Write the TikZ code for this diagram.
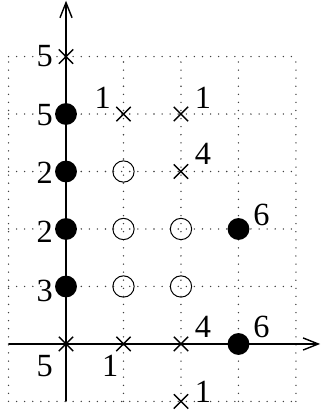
\documentclass[tikz,border=0pt]{standalone}
\usepackage{fontspec}
\setmainfont{Liberation Serif}
\usetikzlibrary{arrows.meta,shapes.misc}
\begin{document}
\begin{tikzpicture}[x=1cm,y=1cm,
  gridline/.style={black!75, line width=0.75pt, line cap=round, dash pattern=on 0pt off 4pt},
  axisline/.style={line width=0.8pt, -{Straight Barb[length=7.5pt,width=6pt,line width=0.7pt]}},
  xmark/.style={cross out, draw, line width=0.7pt, minimum size=0.25cm, inner sep=0pt, outer sep=0pt},
  fdot/.style={circle, fill=black, minimum size=0.38cm, inner sep=0pt},
  odot/.style={circle, draw, fill=white, fill opacity=0, line width=0.5pt, minimum size=0.37cm, inner sep=0pt},
  lab/.style={font=\fontsize{16}{19}\selectfont, inner sep=0pt}]
\useasboundingbox (-1.148,-1.183) rectangle (4.435,5.983);
% grid
\draw[gridline] (-1,-1) grid (4,5);
% axes
\coordinate (xs) at (-1,0);
\coordinate (xe) at (4.42,0);
\coordinate (ys) at (0,-1);
\coordinate (ye) at (0,5.97);
\draw[axisline] (xs) -- (xe);
\draw[axisline] (ys) -- (ye);
% points
\node[xmark] (p05) at (0,5) {};
\node[fdot] (p04) at (0,4) {};
\node[fdot] (p03) at (0,3) {};
\node[fdot] (p02) at (0,2) {};
\node[fdot] (p01) at (0,1) {};
\node[xmark] (p00) at (0,0) {};
\node[xmark] (p14) at (1,4) {};
\node[xmark] (p24) at (2,4) {};
\node[odot] (p13) at (1,3) {};
\node[xmark] (p23) at (2,3) {};
\node[odot] (p12) at (1,2) {};
\node[odot] (p22) at (2,2) {};
\node[fdot] (p32) at (3,2) {};
\node[odot] (p11) at (1,1) {};
\node[odot] (p21) at (2,1) {};
\node[xmark] (p10) at (1,0) {};
\node[xmark] (p20) at (2,0) {};
\node[fdot] (p30) at (3,0) {};
\node[xmark] (p2m) at (2,-1) {};
% labels
\node[lab] (l05) at (-0.37,5.0) {5};
\node[lab] (l04) at (-0.37,3.99) {5};
\node[lab] (l03) at (-0.37,2.97) {2};
\node[lab] (l02) at (-0.37,1.95) {2};
\node[lab] (l01) at (-0.37,0.93) {3};
\node[lab] (l00) at (-0.37,-0.38) {5};
\node[lab] (l14) at (0.64,4.29) {1};
\node[lab] (l24) at (2.38,4.29) {1};
\node[lab] (l23) at (2.38,3.30) {4};
\node[lab] (l32) at (3.40,2.24) {6};
\node[lab] (l10) at (0.77,-0.38) {1};
\node[lab] (l20) at (2.38,0.30) {4};
\node[lab] (l30) at (3.40,0.30) {6};
\node[lab] (l2m) at (2.38,-0.83) {1};
\end{tikzpicture}
\end{document}
